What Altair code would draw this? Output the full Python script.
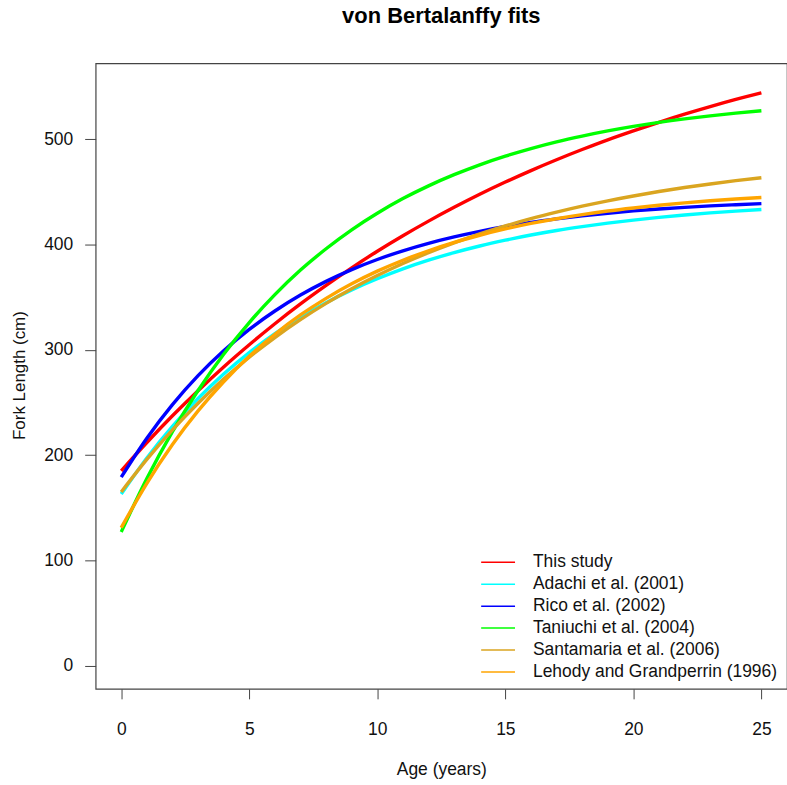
import altair as alt
import pandas as pd

ages = list(range(26))
studies = ["This study", "Adachi et al. (2001)", "Rico et al. (2002)",
           "Taniuchi et al. (2004)", "Santamaria et al. (2006)",
           "Lehody and Grandperrin (1996)"]
colors = ["#FF0000", "#00FFFF", "#0000FF", "#00FF00", "#DAA520", "#FFA500"]

this_study = [185.0, 211.9, 237.3, 261.1, 283.6, 304.7, 324.7, 343.5, 361.1, 377.8,
              393.5, 408.2, 422.1, 435.2, 447.6, 459.2, 470.1, 480.4, 490.1, 499.3,
              507.8, 515.9, 523.6, 530.8, 537.6, 543.9]
adachi = [163.0, 197.3, 227.3, 253.7, 276.9, 297.3, 315.2, 330.9, 344.7, 356.8,
          367.4, 376.8, 385.0, 392.2, 398.5, 404.0, 408.9, 413.2, 416.9, 420.2,
          423.1, 425.7, 427.9, 429.9, 431.6, 433.1]
rico = [179.0, 216.0, 247.9, 275.4, 299.0, 319.3, 336.8, 351.9, 364.9, 376.1,
        385.7, 393.9, 401.0, 407.1, 412.4, 417.0, 420.9, 424.2, 427.1, 429.6,
        431.8, 433.6, 435.2, 436.6, 437.7, 438.7]
taniuchi = [127.0, 177.7, 222.2, 261.3, 295.7, 325.8, 352.3, 375.6, 395.9, 413.9,
            429.6, 443.5, 455.6, 466.2, 475.6, 483.8, 491.0, 497.4, 502.9, 507.8,
            512.1, 515.9, 519.2, 522.1, 524.6, 526.9]
santamaria = [165.0, 195.9, 223.9, 249.2, 272.2, 292.9, 311.6, 328.6, 344.0, 357.9,
              370.4, 381.8, 392.1, 401.4, 409.9, 417.5, 424.4, 430.6, 436.3, 441.4,
              446.0, 450.2, 454.0, 457.4, 460.5, 463.3]
lehody = [131.0, 173.2, 210.0, 241.9, 269.6, 293.8, 314.7, 333.0, 348.8, 362.6,
          374.6, 385.0, 394.0, 401.9, 408.7, 414.7, 419.9, 424.4, 428.3, 431.7,
          434.6, 437.2, 439.4, 441.4, 443.1, 444.5]

x_ticks = [0, 5, 10, 15, 20, 25]
y_ticks = [0, 100, 200, 300, 400, 500]

series = [this_study, adachi, rico, taniuchi, santamaria, lehody]
rows = []
for k, (s, vals) in enumerate(zip(studies, series)):
    for a, v in zip(ages, vals):
        rows.append({"age": a, "length": v, "study": s, "k": k})
df = pd.DataFrame(rows)

FONT = "Liberation Sans"
TXT = "#111111"
LINE = "#444444"

chart = alt.Chart(df).mark_line(strokeWidth=3.4, interpolate="monotone", clip=True).encode(
    x=alt.X("age:Q",
            scale=alt.Scale(domain=[-1, 26], nice=False, zero=False),
            axis=alt.Axis(values=x_ticks, format="d", domain=False, grid=False,
                          tickSize=10, tickColor=LINE, tickWidth=1,
                          labelFont=FONT, labelFontSize=17.5, labelColor=TXT,
                          labelBaseline="alphabetic", labelPadding=36, labelFlush=False,
                          title="Age (years)", titleFont=FONT, titleFontSize=17.5,
                          titleFontWeight="normal", titleColor=TXT,
                          titleBaseline="alphabetic", titleX=347, titleY=86)),
    y=alt.Y("length:Q",
            scale=alt.Scale(domain=[-22, 572], nice=False, zero=False),
            axis=alt.Axis(values=y_ticks, format="d", domain=False, grid=False,
                          tickSize=11, tickColor=LINE, tickWidth=1,
                          labelFont=FONT, labelFontSize=17.5, labelColor=TXT,
                          labelPadding=12, labelFlush=False,
                          title="Fork Length (cm)", titleFont=FONT, titleFontSize=17,
                          titleFontWeight="normal", titleColor=TXT,
                          titleAngle=270, titleBaseline="alphabetic", titleAlign="center",
                          titleX=-71, titleY=313)),
    color=alt.Color("study:N",
                    scale=alt.Scale(domain=studies, range=colors),
                    legend=alt.Legend(title=None, orient="none", legendX=386, legendY=490,
                                      direction="vertical", symbolType="stroke",
                                      symbolSize=1156, symbolStrokeWidth=1.5,
                                      labelFont=FONT, labelFontSize=17.5, labelColor=TXT,
                                      labelOffset=17, rowPadding=0, padding=0,
                                      clipHeight=22,
                                      labelLimit=400, offset=0)),
    order=alt.Order("k:Q"),
).properties(
    width=694, height=628,
    title=alt.TitleParams("von Bertalanffy fits", font=FONT, fontSize=22,
                          fontWeight="bold", color="#000000", anchor="middle",
                          offset=18, baseline="alphabetic", frame="group"),
    autosize=alt.AutoSizeParams(type="none"),
    padding={"left": 96, "top": 62, "right": 0, "bottom": 95},
).configure_view(stroke=LINE, strokeWidth=1.2)

chart.save("out.html", embed_options={"renderer": "svg", "actions": False})
